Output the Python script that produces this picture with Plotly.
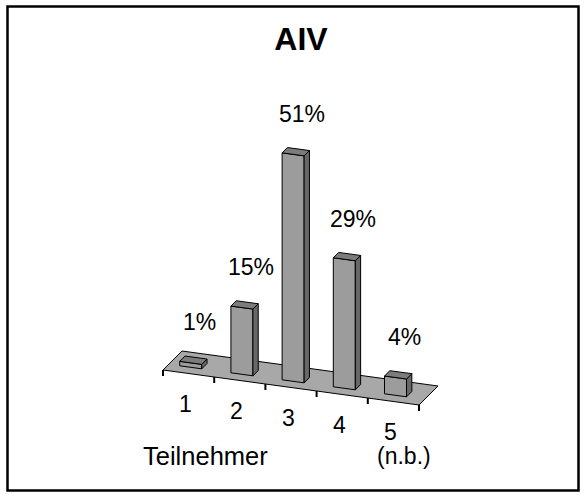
import plotly.graph_objects as go

# ---- data ----
categories = ["1", "2", "3", "4", "5"]
sub_labels = ["", "", "", "", "(n.b.)"]
values = [1, 15, 51, 29, 4]
title_text = "AIV"
axis_title = "Teilnehmer"

# ---- oblique projection (view parameters) ----
PX_PER_CAT = 51.2      # horizontal pixels per category
PX_PER_PCT = 4.45      # vertical pixels per percent
SLOPE = 7 / PX_PER_PCT           # front edge drops per category (in % units)
DEPTH_X = 19 / PX_PER_CAT        # depth vector (category units)
DEPTH_Y = 19 / PX_PER_PCT        # depth vector (% units)
W, H = 586, 498
ORIGIN_PX = (163, 370)           # screen position of floor front-left corner

xmin = 0.5 - ORIGIN_PX[0] / PX_PER_CAT
xmax = xmin + W / PX_PER_CAT
ymax = ORIGIN_PX[1] / PX_PER_PCT
ymin = ymax - H / PX_PER_PCT


def proj(c, d, v):
    return c + d * DEPTH_X, v - (c - 0.5) * SLOPE + d * DEPTH_Y


def poly(pts, color):
    xs = [p[0] for p in pts] + [pts[0][0]]
    ys = [p[1] for p in pts] + [pts[0][1]]
    return go.Scatter(x=xs, y=ys, mode="lines", fill="toself", fillcolor=color,
                      line=dict(color="black", width=1), hoverinfo="skip",
                      showlegend=False)


fig = go.Figure()

n = len(categories)
# floor
c0, c1 = 0.5, n + 0.5
fig.add_trace(poly([proj(c0, 0, 0), proj(c1, 0, 0), proj(c1, 1, 0), proj(c0, 1, 0)], "#a8a8a8"))

# ticks on the front edge
tx, ty = [], []
for k in range(n + 1):
    x, y = proj(0.5 + k, 0, 0)
    tx += [x, x, None]
    ty += [y, y - 6 / PX_PER_PCT, None]
fig.add_trace(go.Scatter(x=tx, y=ty, mode="lines", line=dict(color="black", width=2),
                         hoverinfo="skip", showlegend=False))

BAR_HALF = 0.215
BAR_SHIFT = -0.07
D_FRONT, D_BACK = 0.3, 0.58

annotations = []
for i, (cat, v) in enumerate(zip(categories, values)):
    c = i + 1 + BAR_SHIFT
    l, r = c - BAR_HALF, c + BAR_HALF
    # front face
    fig.add_trace(poly([proj(l, D_FRONT, 0), proj(r, D_FRONT, 0),
                        proj(r, D_FRONT, v), proj(l, D_FRONT, v)], "#9c9c9c"))
    # right side face
    fig.add_trace(poly([proj(r, D_FRONT, 0), proj(r, D_BACK, 0),
                        proj(r, D_BACK, v), proj(r, D_FRONT, v)], "#686868"))
    # top face
    fig.add_trace(poly([proj(l, D_FRONT, v), proj(r, D_FRONT, v),
                        proj(r, D_BACK, v), proj(l, D_BACK, v)], "#7c7c7c"))
    # value label
    lx, ly = proj(c, (D_FRONT + D_BACK) / 2, v)
    annotations.append(dict(x=lx, y=ly, xref="x", yref="y", text=f"{v}%",
                            showarrow=False, xshift=6, yshift=38,
                            xanchor="center", yanchor="middle",
                            font=dict(size=23, color="black")))
    # category label
    cx, cy = proj(i + 1, 0, 0)
    annotations.append(dict(x=cx, y=cy, xref="x", yref="y", text=cat,
                            showarrow=False, xshift=-3, yshift=-30,
                            xanchor="center", yanchor="middle",
                            font=dict(size=23, color="black")))
    if sub_labels[i]:
        annotations.append(dict(x=cx, y=cy, xref="x", yref="y", text=sub_labels[i],
                                showarrow=False, xshift=11, yshift=-54,
                                xanchor="center", yanchor="middle",
                                font=dict(size=23, color="black")))

annotations.append(dict(x=205 / W, y=1 - 456 / H, xref="paper", yref="paper",
                        text=axis_title, showarrow=False,
                        xanchor="center", yanchor="middle",
                        font=dict(size=25.5, color="black")))

fig.update_layout(
    width=W, height=H, autosize=False,
    margin=dict(l=0, r=0, t=0, b=0),
    paper_bgcolor="white", plot_bgcolor="white",
    font=dict(family="Arial, Liberation Sans, sans-serif", color="black"),
    title=dict(text=f"<b>{title_text}</b>", x=301 / W, y=1 - 39 / H,
               xanchor="center", yanchor="middle",
               font=dict(size=32, color="black")),
    xaxis=dict(range=[xmin, xmax], visible=False, fixedrange=True),
    yaxis=dict(range=[ymin, ymax], visible=False, fixedrange=True),
    annotations=annotations,
    shapes=[dict(type="rect", xref="paper", yref="paper",
                 x0=7.5 / W, x1=578.5 / W, y0=1 - 490.5 / H, y1=1 - 6.5 / H,
                 line=dict(color="black", width=2.5))],
    showlegend=False,
)

fig.write_html(
    "out.html",
    config={"displayModeBar": False},
    post_script="document.body.style.margin='0';document.body.style.padding='0';"
                "document.body.style.overflow='hidden';",
)
